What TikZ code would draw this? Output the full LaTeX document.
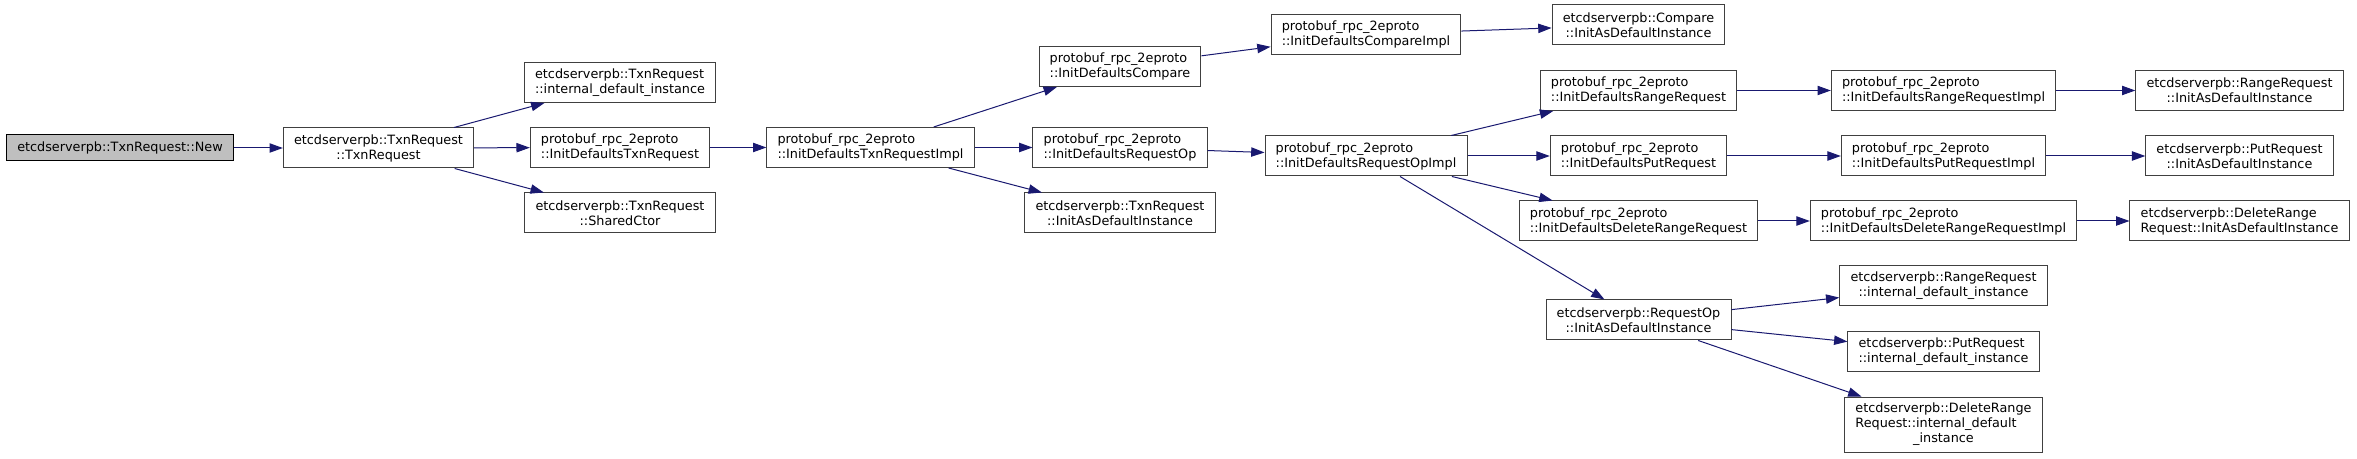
\documentclass[tikz,border=0pt]{standalone}
\usepackage{fontspec}
\setmainfont{DejaVu Sans}
\usetikzlibrary{arrows.meta, positioning}
\definecolor{edgeblue}{RGB}{25,25,112}
\definecolor{rootgray}{RGB}{191,191,191}

\begin{document}
\begin{tikzpicture}[
    x=0.75pt, y=-0.75pt,
    fn/.style={draw=black!75, line width=0.75pt, fill=white, inner xsep=8pt, inner ysep=2pt,
               minimum height=30pt, font=\fontsize{9.6}{11.25}\selectfont},
    fnl/.style={fn, align=left},
    fnc/.style={fn, align=center},
    root/.style={fn, fill=rootgray, draw=black, minimum height=19.5pt},
    call/.style={draw=edgeblue, line width=0.75pt, -{Triangle[length=10pt, width=7pt]}}
]
\useasboundingbox (0,0) rectangle (2357,459);

% Nodes
\node[root] (new) at (120,148) {etcdserverpb::TxnRequest::New};
\node[fnc] (ctor) at (378.5,148) {etcdserverpb::TxnRequest\\::TxnRequest};

\node[fnl] (tdef) at (620,82.5) {etcdserverpb::TxnRequest\\::internal\_default\_instance};
\node[fnl] (initdtxn) at (620,147.5) {protobuf\_rpc\_2eproto\\::InitDefaultsTxnRequest};
\node[fnc] (shared) at (620,213) {etcdserverpb::TxnRequest\\::SharedCtor};

\node[fnl] (initdtxnimpl) at (870.5,147.5) {protobuf\_rpc\_2eproto\\::InitDefaultsTxnRequestImpl};

\node[fnl] (initdcmp) at (1120,66.5) {protobuf\_rpc\_2eproto\\::InitDefaultsCompare};
\node[fnl] (initdreqop) at (1120,147.5) {protobuf\_rpc\_2eproto\\::InitDefaultsRequestOp};
\node[fnc] (txninit) at (1120,213) {etcdserverpb::TxnRequest\\::InitAsDefaultInstance};

\node[fnl] (initdcmpimpl) at (1366,34.3) {protobuf\_rpc\_2eproto\\::InitDefaultsCompareImpl};
\node[fnl] (initdreqopimpl) at (1366,156) {protobuf\_rpc\_2eproto\\::InitDefaultsRequestOpImpl};

\node[fnc] (cmpinit) at (1638.5,25) {etcdserverpb::Compare\\::InitAsDefaultInstance};
\node[fnl] (initdrange) at (1638.5,90.5) {protobuf\_rpc\_2eproto\\::InitDefaultsRangeRequest};
\node[fnl] (initdput) at (1638.5,156) {protobuf\_rpc\_2eproto\\::InitDefaultsPutRequest};
\node[fnl] (initddel) at (1638.5,221) {protobuf\_rpc\_2eproto\\::InitDefaultsDeleteRangeRequest};
\node[fnc] (reqopinit) at (1638.5,320) {etcdserverpb::RequestOp\\::InitAsDefaultInstance};

\node[fnl] (initdrangeimpl) at (1943.5,90.5) {protobuf\_rpc\_2eproto\\::InitDefaultsRangeRequestImpl};
\node[fnl] (initdputimpl) at (1943.5,156) {protobuf\_rpc\_2eproto\\::InitDefaultsPutRequestImpl};
\node[fnl] (initddelimpl) at (1943.5,221) {protobuf\_rpc\_2eproto\\::InitDefaultsDeleteRangeRequestImpl};
\node[fnc] (rangedef) at (1943.5,286) {etcdserverpb::RangeRequest\\::internal\_default\_instance};
\node[fnl] (putdef) at (1943.5,351.5) {etcdserverpb::PutRequest\\::internal\_default\_instance};
\node[fn, minimum height=41.5pt] (deldef) at (1943.5,424.7)
    {\begin{tabular}{@{}l@{}}etcdserverpb::DeleteRange\\Request::internal\_default\\
     \multicolumn{1}{@{}c@{}}{\_instance}\end{tabular}};

\node[fnc] (rangeinit) at (2239.5,90.5) {etcdserverpb::RangeRequest\\::InitAsDefaultInstance};
\node[fnc] (putinit) at (2239.5,156) {etcdserverpb::PutRequest\\::InitAsDefaultInstance};
\node[fnl] (delinit) at (2239.5,221) {etcdserverpb::DeleteRange\\Request::InitAsDefaultInstance};

% Edges
\draw[call] (new) -- (ctor);
\draw[call] (ctor) -- (tdef);
\draw[call] (ctor) -- (initdtxn);
\draw[call] (ctor) -- (shared);
\draw[call] (initdtxn) -- (initdtxnimpl);
\draw[call] (initdtxnimpl) -- (initdcmp);
\draw[call] (initdtxnimpl) -- (initdreqop);
\draw[call] (initdtxnimpl) -- (txninit);
\draw[call] (initdcmp) -- (initdcmpimpl);
\draw[call] (initdcmpimpl) -- (cmpinit);
\draw[call] (initdreqop) -- (initdreqopimpl);
\draw[call] (initdreqopimpl) -- (initdrange);
\draw[call] (initdreqopimpl) -- (initdput);
\draw[call] (initdreqopimpl) -- (initddel);
\draw[call] (initdreqopimpl) -- (reqopinit);
\draw[call] (initdrange) -- (initdrangeimpl);
\draw[call] (initdrangeimpl) -- (rangeinit);
\draw[call] (initdput) -- (initdputimpl);
\draw[call] (initdputimpl) -- (putinit);
\draw[call] (initddel) -- (initddelimpl);
\draw[call] (initddelimpl) -- (delinit);
\draw[call] (reqopinit) -- (rangedef);
\draw[call] (reqopinit) -- (putdef);
\draw[call] (reqopinit) -- (deldef);

\end{tikzpicture}
\end{document}
